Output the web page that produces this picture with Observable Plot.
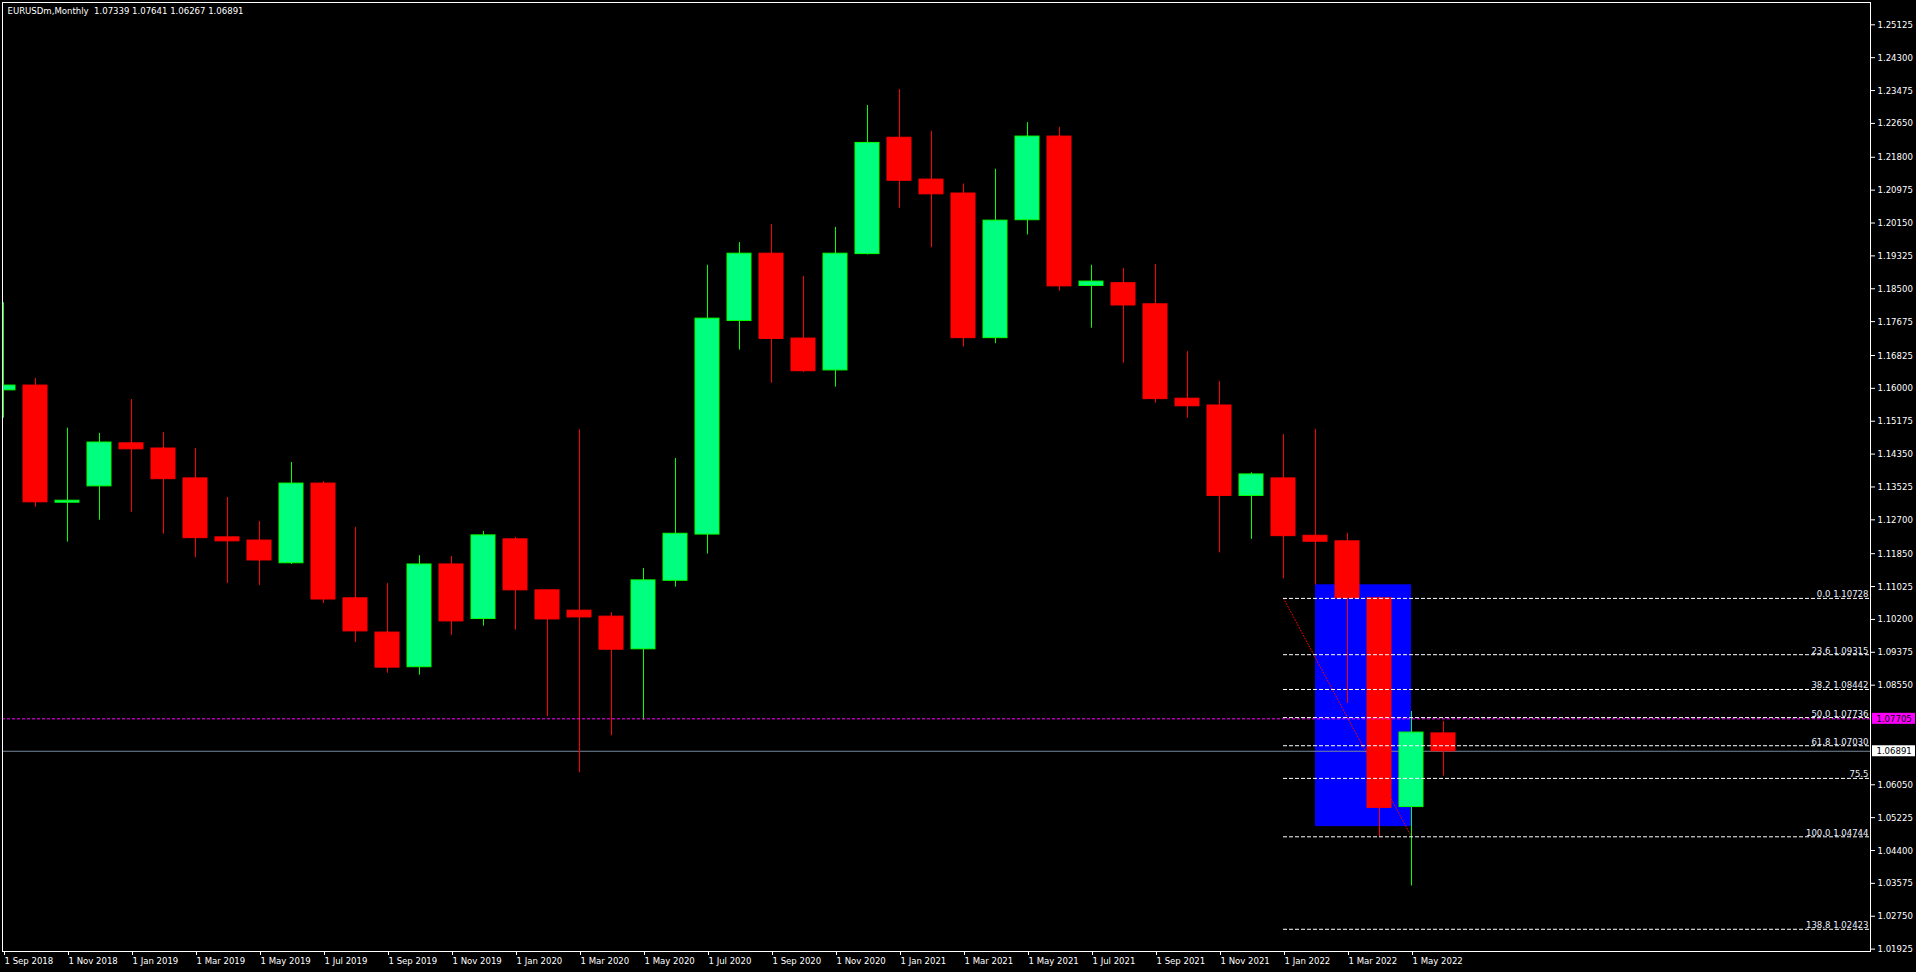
<!DOCTYPE html>
<html><head><meta charset="utf-8">
<script src="https://cdn.jsdelivr.net/npm/d3@7"></script>
<script src="https://cdn.jsdelivr.net/npm/@observablehq/plot@0.6"></script>
<style>
html,body{margin:0;padding:0;background:#000;overflow:hidden}
#chart svg{display:block}
</style></head><body><div id="chart"></div>
<script>
// ---- data (monthly EURUSDm candles, index 0 = Sep 2018) ----
const months = ["1 Sep 2018","1 Oct 2018","1 Nov 2018","1 Dec 2018","1 Jan 2019","1 Feb 2019","1 Mar 2019","1 Apr 2019","1 May 2019","1 Jun 2019","1 Jul 2019","1 Aug 2019","1 Sep 2019","1 Oct 2019","1 Nov 2019","1 Dec 2019","1 Jan 2020","1 Feb 2020","1 Mar 2020","1 Apr 2020","1 May 2020","1 Jun 2020","1 Jul 2020","1 Aug 2020","1 Sep 2020","1 Oct 2020","1 Nov 2020","1 Dec 2020","1 Jan 2021","1 Feb 2021","1 Mar 2021","1 Apr 2021","1 May 2021","1 Jun 2021","1 Jul 2021","1 Aug 2021","1 Sep 2021","1 Oct 2021","1 Nov 2021","1 Dec 2021","1 Jan 2022","1 Feb 2022","1 Mar 2022","1 Apr 2022","1 May 2022","1 Jun 2022"];
const open  = [1.1595,1.1607,1.1313,1.1354,1.1462,1.1449,1.1374,1.1226,1.1218,1.1161,1.1361,1.1073,1.0987,1.0900,1.1158,1.1021,1.1221,1.1093,1.1042,1.1027,1.0945,1.1117,1.1233,1.1769,1.1938,1.1725,1.1645,1.1937,1.2229,1.2124,1.2089,1.1726,1.2022,1.2232,1.1857,1.1864,1.1811,1.1574,1.1557,1.1330,1.1374,1.1230,1.1216,1.1073,1.0549,1.07339];
const high  = [1.1815,1.1625,1.1500,1.1487,1.1572,1.1489,1.1449,1.1326,1.1266,1.1414,1.1366,1.1251,1.1110,1.1180,1.1178,1.1241,1.1226,1.1094,1.1496,1.1037,1.1148,1.1424,1.1909,1.1966,1.2011,1.1881,1.2004,1.2310,1.2350,1.2245,1.2113,1.2150,1.2267,1.2255,1.1909,1.1901,1.1911,1.1692,1.1617,1.1388,1.1484,1.1497,1.1236,1.1076,1.0789,1.07641];
const low   = [1.1525,1.1302,1.1214,1.1269,1.1289,1.1234,1.1175,1.1110,1.1105,1.1158,1.1060,1.0962,1.0885,1.0880,1.0980,1.1003,1.0993,1.0776,1.0635,1.0728,1.0767,1.1101,1.1184,1.1696,1.1613,1.1640,1.1603,1.1935,1.2052,1.1953,1.1704,1.1712,1.1985,1.1844,1.1751,1.1663,1.1563,1.1525,1.1187,1.1221,1.1122,1.1106,1.0809,1.0474,1.0351,1.06267];
const close = [1.1607,1.1314,1.1318,1.1464,1.1447,1.1372,1.1224,1.1216,1.1168,1.1361,1.1070,1.0990,1.0899,1.1158,1.1015,1.1231,1.1093,1.1020,1.1025,1.0944,1.1118,1.1235,1.1775,1.1938,1.1724,1.1643,1.1938,1.2216,1.2121,1.2087,1.1726,1.2021,1.2232,1.1856,1.1868,1.1808,1.1573,1.1555,1.1330,1.1384,1.1229,1.1215,1.1073,1.0547,1.0736,1.06891];

const priceTicks = [1.25125,1.24300,1.23475,1.22650,1.21800,1.20975,1.20150,1.19325,1.18500,1.17675,1.16825,1.16000,1.15175,1.14350,1.13525,1.12700,1.11850,1.11025,1.10200,1.09375,1.08550,1.06050,1.05225,1.04400,1.03575,1.02750,1.01925];
const timeTicks = [0,2,4,6,8,10,12,14,16,18,20,22,24,26,28,30,32,34,36,38,40,42,44];

const fibLevels = ["0.0","23.6","38.2","50.0","61.8","75.5","100.0","138.8"];
const fibPrices = [1.10728,1.09315,1.08442,1.07736,1.07030,1.06210,1.04744,1.02423];
const fibShowPrice = [true,true,true,true,true,false,true,true];
const fibStart = 40, fibEnd = 44;           // Jan 2022 -> May 2022
const boxStart = 41, boxEnd = 44, boxTop = 1.1107, boxBottom = 1.0500;
const askLine = 1.07705, bidLine = 1.06891;
const title = "EURUSDm,Monthly  1.07339 1.07641 1.06267 1.06891";

// ---- build ----
const candles = months.map((m, i) => ({i, m, o: open[i], h: high[i], l: low[i], c: close[i]}));
const bull = candles.filter(d => d.c >= d.o);
const bear = candles.filter(d => d.c < d.o);
const fib = fibLevels.map((lv, k) => ({lv, p: fibPrices[k], label: fibShowPrice[k] ? `${lv} ${fibPrices[k].toFixed(5)}` : lv}));

const W = 1916, H = 972;
const xMin = -0.03125, xMax = 58.34375;
const boxX1 = 58.40625, boxX2 = 59.75, textX = 58.53;
const half = 0.00138;

const FONT = "'DejaVu Sans Condensed','Liberation Sans',Arial,sans-serif";
const BULL_FILL = "#00ff7f", BULL_EDGE = "#00ff00", BEAR = "#ff0000";

const chart = Plot.plot({
  width: W, height: H,
  marginLeft: 2, marginRight: 46, marginTop: 2, marginBottom: 21,
  style: {background: "#000", color: "#fff", fontFamily: FONT, fontSize: "9px"},
  x: {type: "linear", domain: [xMin, xMax], label: null},
  y: {type: "linear", domain: [1.01865, 1.25685], label: null},
  marks: [
    // blue rectangle object
    Plot.rect([{x1: boxStart, x2: boxEnd, y1: boxBottom, y2: boxTop}], {x1: "x1", x2: "x2", y1: "y1", y2: "y2", fill: "#0000ff"}),
    // fib trend line (dotted red)
    Plot.line([{x: fibStart, y: fibPrices[0]}, {x: fibEnd, y: fibPrices[6]}], {x: "x", y: "y", stroke: "#ff0000", strokeDasharray: "1,2", strokeWidth: 1}),
    // bid line
    Plot.ruleY([bidLine], {stroke: "#778899", strokeWidth: 1}),
    // wicks
    Plot.ruleX(bull, {x: "i", y1: "l", y2: "h", stroke: BULL_EDGE, strokeWidth: 1, clip: true}),
    Plot.ruleX(bear, {x: "i", y1: "l", y2: "h", stroke: BEAR, strokeWidth: 1, clip: true}),
    // bodies
    Plot.rect(bull, {x1: d => d.i - 0.375, x2: d => d.i + 0.375, y1: "o", y2: "c", fill: BULL_FILL, stroke: BULL_EDGE, strokeWidth: 1, clip: true}),
    Plot.rect(bear, {x1: d => d.i - 0.375, x2: d => d.i + 0.375, y1: "o", y2: "c", fill: BEAR, stroke: BEAR, strokeWidth: 1, clip: true}),
    // ask line
    Plot.ruleY([askLine], {stroke: "#ff00ff", strokeWidth: 1, strokeDasharray: "3,2"}),
    // fib levels
    Plot.ruleY(fib, {y: "p", x1: fibStart, x2: xMax, stroke: "#ffffff", strokeDasharray: "4,2", strokeWidth: 1}),
    Plot.text(fib, {x: xMax, y: "p", text: "label", textAnchor: "end", lineAnchor: "bottom", dx: -2, dy: -1, fill: "#e8efff", fontSize: 9.5}),
    // frame & axes
    Plot.frame({stroke: "#ffffff"}),
    Plot.axisY(priceTicks, {anchor: "right", tickSize: 4, tickPadding: 3, tickFormat: d => d.toFixed(5), stroke: "#fff", fill: "#fff", fontSize: 9.5}),
    Plot.axisX(timeTicks, {anchor: "bottom", tickSize: 4, tickPadding: 2, tickFormat: i => months[i], textAnchor: "start", dx: 1, stroke: "#fff", fill: "#fff", fontSize: 9.5}),
    // price label boxes on the axis
    Plot.rect([{x1: boxX1, x2: boxX2, y1: askLine - half, y2: askLine + half}], {x1: "x1", x2: "x2", y1: "y1", y2: "y2", fill: "#ff00ff"}),
    Plot.text([askLine], {x: textX, y: d => d, text: d => d.toFixed(5), textAnchor: "start", fill: "#000", fontSize: 9.5}),
    Plot.rect([{x1: boxX1, x2: boxX2, y1: bidLine - half, y2: bidLine + half}], {x1: "x1", x2: "x2", y1: "y1", y2: "y2", fill: "#ffffff"}),
    Plot.text([bidLine], {x: textX, y: d => d, text: d => d.toFixed(5), textAnchor: "start", fill: "#000", fontSize: 9.5}),
    // title
    Plot.text([title], {frameAnchor: "top-left", text: d => d, dx: 5, dy: 5, textAnchor: "start", lineAnchor: "top", fill: "#fff", fontSize: 9.5})
  ]
});
document.getElementById("chart").appendChild(chart);
</script>
</body></html>
